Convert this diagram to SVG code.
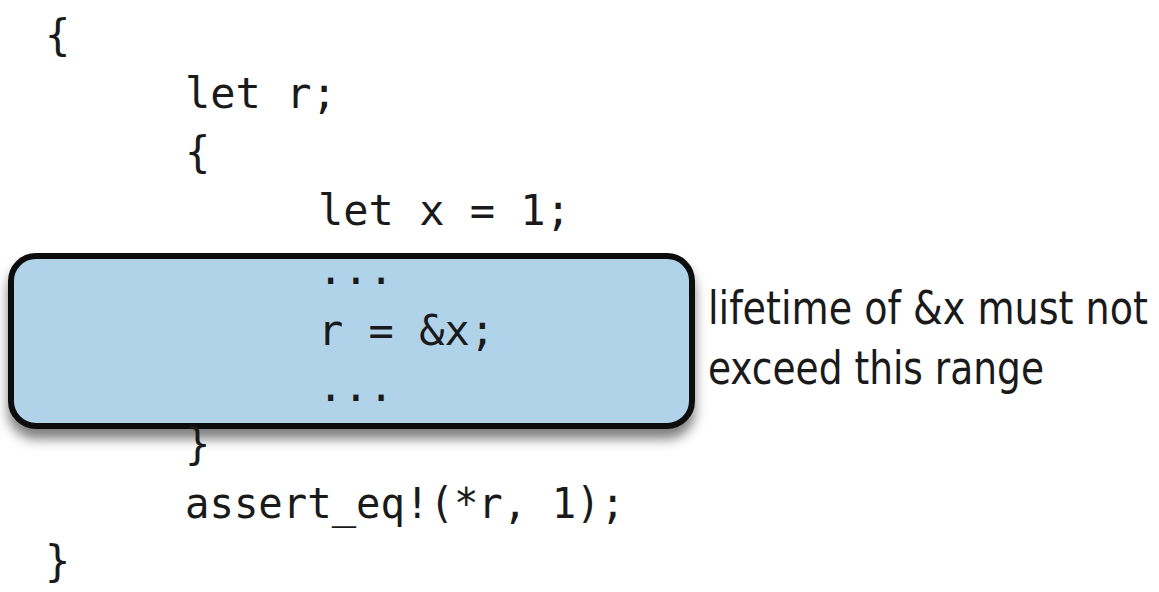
<svg xmlns="http://www.w3.org/2000/svg" width="1159" height="592" viewBox="0 0 1159 592">
<defs>
<filter id="shadow" x="-10%" y="-20%" width="120%" height="160%">
<feDropShadow dx="0" dy="10" stdDeviation="6" flood-color="#000" flood-opacity="0.5"/>
</filter>
<style>
.code{font-family:"DejaVu Sans Mono","Liberation Mono",monospace;font-size:42px;fill:#1a1a1a;}
.note{font-family:"DejaVu Sans","Liberation Sans",sans-serif;font-stretch:condensed;font-size:47px;fill:#1a1a1a;}
.box{fill:#b0d3e9;stroke:#111;stroke-width:6;}
</style>
</defs>
<rect width="1159" height="592" fill="#fff"/>
<g id="range-box">
<rect class="box" x="11" y="256" width="681" height="170" rx="25" ry="25" filter="url(#shadow)"/>
</g>
<g id="code">
<text class="code" x="45" y="50">{</text>
<text class="code" x="185" y="108">let r;</text>
<text class="code" x="185" y="167">{</text>
<text class="code" x="318" y="225">let x = 1;</text>
<text class="code" x="318" y="284">...</text>
<text class="code" x="318" y="345">r = &amp;x;</text>
<text class="code" x="318" y="401">...</text>
<text class="code" x="185" y="459">}</text>
<text class="code" x="185" y="518" textLength="440" lengthAdjust="spacingAndGlyphs">assert_eq!(*r, 1);</text>
<text class="code" x="45" y="576">}</text>
</g>
<g id="note" transform="translate(708,0) scale(0.8,1)">
<text class="note" x="0" y="324" textLength="550" lengthAdjust="spacingAndGlyphs">lifetime of &amp;x must not</text>
<text class="note" x="0" y="384" textLength="420" lengthAdjust="spacingAndGlyphs">exceed this range</text>
</g>
</svg>
